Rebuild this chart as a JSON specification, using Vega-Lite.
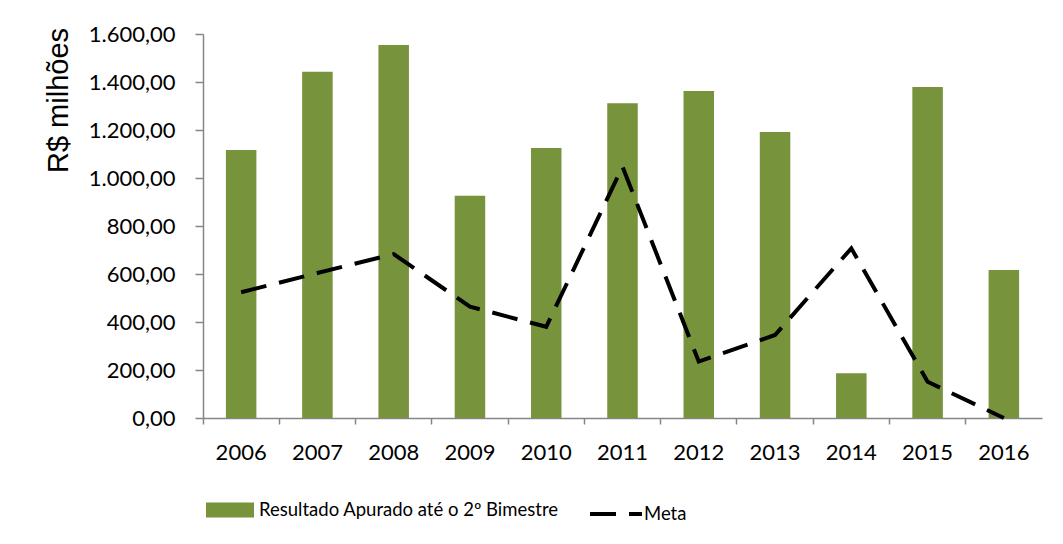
{
  "$schema": "https://vega.github.io/schema/vega-lite/v6.json",
  "width": 839,
  "height": 384,
  "autosize": {"type": "none"},
  "padding": {"left": 203, "top": 34, "right": 21, "bottom": 126},
  "background": "white",
  "config": {
    "view": {"stroke": null},
    "locale": {"number": {"decimal": ",", "thousands": ".", "grouping": [3], "currency": ["R$", ""]}},
    "font": "Lato"
  },
  "data": {
    "values": [
      {"ano": "2006", "resultado": 1117, "meta": 524},
      {"ano": "2007", "resultado": 1443, "meta": 604},
      {"ano": "2008", "resultado": 1554, "meta": 683},
      {"ano": "2009", "resultado": 926, "meta": 464},
      {"ano": "2010", "resultado": 1125, "meta": 380},
      {"ano": "2011", "resultado": 1311, "meta": 1047},
      {"ano": "2012", "resultado": 1362, "meta": 235},
      {"ano": "2013", "resultado": 1192, "meta": 346},
      {"ano": "2014", "resultado": 186, "meta": 707},
      {"ano": "2015", "resultado": 1379, "meta": 151},
      {"ano": "2016", "resultado": 617, "meta": 0}
    ]
  },
  "layer": [
    {
      "mark": {"type": "bar", "width": {"band": 0.4}},
      "encoding": {
        "x": {
          "field": "ano", "type": "ordinal",
          "scale": {"paddingInner": 0, "paddingOuter": 0},
          "axis": {"orient": "bottom", "title": null, "labels": false, "bandPosition": 0, "tickSize": 6, "tickColor": "#868686", "domainColor": "#868686", "domainWidth": 1.5, "tickWidth": 1.5}
        },
        "y": {
          "field": "resultado", "type": "quantitative",
          "scale": {"domain": [0, 1600]},
          "axis": {
            "title": "R$ milhões", "values": [0, 200, 400, 600, 800, 1000, 1200, 1400, 1600],
            "format": ",.2f", "grid": false, "tickSize": 8, "tickColor": "#868686", "domainColor": "#868686",
            "domainWidth": 1.5, "tickWidth": 1.5,
            "labelFont": "Lato", "labelFontSize": 22, "labelColor": "black", "labelPadding": 20,
            "titleFont": "Liberation Sans", "titleFontSize": 29, "titleFontWeight": "normal", "titleColor": "black",
            "titleX": -145, "titleY": 66, "titleAngle": -90, "titleAlign": "center", "titleBaseline": "middle"
          }
        },
        "color": {
          "datum": "Resultado Apurado até o 2º Bimestre",
          "scale": {"range": ["#77933C"]},
          "legend": {
            "title": null, "orient": "none", "legendX": 3, "legendY": 452, "padding": 0,
            "symbolType": "M-1,-0.3125H1V0.3125H-1Z", "symbolSize": 2304, "symbolStrokeWidth": 0,
            "labelFont": "Lato", "labelFontSize": 18.5, "labelColor": "black", "labelOffset": 5, "labelLimit": 500
          }
        }
      }
    },
    {
      "mark": {"type": "line", "color": "black", "strokeWidth": 4, "strokeCap": "butt"},
      "encoding": {
        "x": {
          "field": "ano", "type": "ordinal",
          "axis": {"orient": "bottom", "title": null, "ticks": false, "domain": false, "labelFont": "Lato", "labelFontSize": 22, "labelColor": "black", "labelPadding": 24, "labelAngle": 0}
        },
        "y": {"field": "meta", "type": "quantitative"},
        "strokeDash": {
          "datum": "Meta",
          "scale": {"range": [[26, 13]]},
          "legend": {
            "title": null, "orient": "none", "legendX": 385, "legendY": 452, "padding": 0,
            "symbolType": "stroke", "symbolSize": 2704, "symbolStrokeColor": "black", "symbolStrokeWidth": 4,
            "labelFont": "Lato", "labelFontSize": 18.5, "labelColor": "black", "labelOffset": 0
          }
        }
      }
    }
  ],
  "resolve": {"axis": {"x": "independent"}}
}
